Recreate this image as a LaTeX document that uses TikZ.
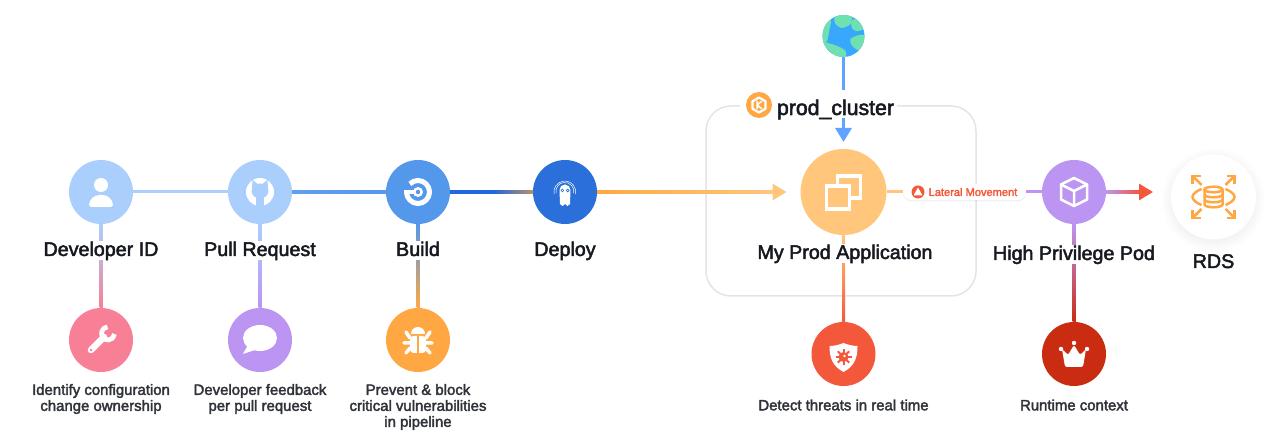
\documentclass[tikz,border=0pt]{standalone}
\usepackage{fontspec}
\setmainfont{Liberation Sans}[FakeBold=2.5]
\usetikzlibrary{arrows.meta,calc,shadows}

\definecolor{skyblue}{HTML}{AACFFC}
\definecolor{midblue}{HTML}{5398EA}
\definecolor{deepblue}{HTML}{2B6FDB}
\definecolor{wireblue}{HTML}{2065E2}
\definecolor{arrowblue}{HTML}{5FA2FF}
\definecolor{pink}{HTML}{F77F96}
\definecolor{lilac}{HTML}{BC94F2}
\definecolor{amber}{HTML}{FFA843}
\definecolor{sand}{HTML}{FFC67C}
\definecolor{coral}{HTML}{F4583A}
\definecolor{brick}{HTML}{C92C10}
\definecolor{boxgrey}{HTML}{E4E4E4}
\definecolor{inkdark}{HTML}{16191F}
\definecolor{inkgrey}{HTML}{30333A}
\definecolor{seablue}{HTML}{38A8FF}
\definecolor{landgreen}{HTML}{6FE0B0}

% connector with a colour fade along it
\newcommand{\hfade}[4]{%
  \draw[wire,#3!50!#4] (#1) -- (#2);
  \shade[left color=#3,right color=#4] ($(#1.east)+(0,.03)$) rectangle ($(#2.west)-(0,.03)$);}
\newcommand{\vfade}[4]{%
  \draw[wire,#3!50!#4] (#1) -- (#2);
  \shade[top color=#3,bottom color=#4] ($(#1.south)+(-.03,0)$) rectangle ($(#2.north)+(.03,0)$);}

\begin{document}
\begin{tikzpicture}[
  stepnode/.style={circle, fill=#1, minimum size=1.28cm, inner sep=0pt, outer sep=0pt},
  title/.style={anchor=base, fill=white, inner xsep=.06cm, inner ysep=0pt, text height=.30cm,
                text depth=.09cm, text=inkdark, font=\fontsize{11.2}{13}\selectfont},
  note/.style={align=center, inner sep=0pt, text=inkgrey, font=\fontsize{8.5}{9.1}\selectfont},
  wire/.style={line width=.06cm},
  tip/.style={-{Triangle[length=.28cm,width=.32cm]}},
  iconat/.style={shift={(#1)}, x=.02cm, y=.02cm},
  pen/.style={draw=white, line width=#1, line cap=round, line join=round}
]
  \useasboundingbox (0,0) rectangle (25.34,8.72);

  % cluster frame
  \node[draw=boxgrey, line width=.03cm, rounded corners=.5cm, minimum width=5.4cm,
        minimum height=3.8cm, inner sep=0pt] (cluster) at (16.82, 4.7) {};

  % main row
  \node[stepnode=skyblue] (dev)     at (2.02, 4.88) {};
  \node[stepnode=skyblue] (pullreq) at (5.2, 4.88)  {};
  \node[stepnode=midblue] (build)   at (8.36, 4.88) {};
  \node[stepnode=deepblue] (deploy) at (11.3, 4.88) {};
  \node[circle, fill=sand, minimum size=1.72cm, inner sep=0pt, outer sep=0pt] (app) at (16.87, 4.88) {};
  \node[stepnode=lilac] (pod) at (21.48, 4.88) {};
  \coordinate (rdstip) at (23.06, 4.88);

  % lower row
  \node[stepnode=pink]  (wrench) at (2.02, 1.92) {};
  \node[stepnode=lilac] (chat)   at (5.2, 1.92)  {};
  \node[stepnode=amber] (bug)    at (8.36, 1.92) {};
  \node[stepnode=coral] (shield) at (16.87, 1.64) {};
  \node[stepnode=brick] (crown)  at (21.48, 1.64) {};

  % internet on top, database on the right
  \node[circle, fill=seablue, minimum size=.84cm, inner sep=0pt, outer sep=0pt] (globe) at (16.87, 8) {};
  \foreach \r in {52,51,...,40}
    \fill[black, opacity=.004] (24.27, 4.72) circle ({\r*.02});
  \node[circle, fill=white, minimum size=1.7cm, inner sep=0pt] (rds) at (24.27, 4.78) {};

  % connectors
  \draw[wire, skyblue] (dev) -- (pullreq);
  \hfade{pullreq}{build}{midblue!85!skyblue}{midblue}
  \hfade{build}{deploy}{wireblue}{wireblue}
  \shade[left color=wireblue, right color=amber!45!gray] ($(deploy.west)+(-.8,.03)$) rectangle ($(deploy.west)-(0,.03)$);
  \draw[wire, tip, shorten >=.28cm, sand] (deploy) -- (app);
  \shade[left color=amber, right color=sand] ($(deploy.east)+(0,.03)$) rectangle ($(app.west)+(-.56,-.03)$);
  \draw[wire, tip, shorten >=.14cm, arrowblue] (globe) -- (app);
  \draw[wire, -{Triangle[length=.28cm,width=.32cm,color=coral]}, lilac] (pod) -- (rdstip);
  \shade[left color=lilac, right color=coral] ($(pod.east)+(0,.03)$) rectangle ($(rdstip)+(-.28,-.03)$);
  \vfade{dev}{wrench}{skyblue}{pink}
  \vfade{pullreq}{chat}{skyblue}{lilac}
  \vfade{build}{bug}{midblue}{amber}
  \vfade{app}{shield}{sand}{coral}
  \vfade{pod}{crown}{lilac}{brick}

  % risk badge on the link
  \node[fill=white, rounded corners=.16cm, minimum width=2.46cm, minimum height=.32cm, inner sep=0pt,
        drop shadow={opacity=.12, shadow xshift=0cm, shadow yshift=-.03cm},
        text=coral, font=\fontsize{6.3}{7}\selectfont] (lateral) at (19.29, 4.88)
        {\hspace*{.34cm}Lateral Movement};
  \draw[wire, sand] (app) -- (lateral);
  \draw[wire, lilac] (lateral) -- (pod);
  \node[circle, fill=coral, minimum size=.26cm, inner sep=0pt] (lateralicon) at (18.36, 4.88) {};
  \fill[white, rounded corners=.3pt] (18.36, 4.97) -- (18.45, 4.81) -- (18.27, 4.81) -- cycle;

  % texts
  \node[title] (devlabel)     at (2.02, 3.6)   {Developer ID};
  \node[title] (pullreqlabel) at (5.2, 3.6)    {Pull Request};
  \node[title] (buildlabel)   at (8.36, 3.6)   {Build};
  \node[title] (deploylabel)  at (11.3, 3.6)   {Deploy};
  \node[title] (applabel)     at (16.9, 3.54)  {My Prod Application};
  \node[title] (podlabel)     at (21.48, 3.52) {High Privilege Pod};
  \node[title] (rdslabel)     at (24.27, 3.36) {RDS};
  \node[title, inner xsep=.06cm, text height=.5cm, text depth=.06cm,
        font=\fontsize{12.1}{14}\selectfont] (clustertitle) at (16.71, 6.42) {prod\_cluster};
  \node[circle, fill=white, minimum size=.76cm, inner sep=0pt] (clusterhalo) at (15.18, 6.62) {};
  \node[circle, fill=amber, minimum size=.52cm, inner sep=0pt] (clustericon) at (15.18, 6.62) {};
  \node[note] (wrenchnote) at (2.02, .74)  {Identify configuration\\change ownership};
  \node[note] (chatnote)   at (5.2, .74)   {Developer feedback\\per pull request};
  \node[note] (bugnote)    at (8.36, .58)  {Prevent \& block\\critical vulnerabilities\\in pipeline};
  \node[note] (shieldnote) at (16.87, .62) {Detect threats in real time};
  \node[note] (crownnote)  at (21.48, .62) {Runtime context};

  % person
  \begin{scope}[iconat=dev]
    \fill[white] (0,7) circle (7);
    \fill[white, rounded corners=1pt] (-12,-15) -- (12,-15) .. controls (12,-7) and (6,-3) .. (0,-3) .. controls (-6,-3) and (-12,-7) .. (-12,-15) -- cycle;
  \end{scope}
  % octocat
  \begin{scope}[iconat=pullreq]
    \fill[white] (0,0) circle (14);
    \fill[skyblue] (0,1) ellipse (8.5 and 7.5);
    \fill[skyblue] (-8,3) -- (-7.5,12) -- (-1,7) -- cycle;
    \fill[skyblue] (8,3) -- (7.5,12) -- (1,7) -- cycle;
    \fill[skyblue] (-4,-14) rectangle (4,-4);
    \draw[white, line width=.03cm] (-10,-7) .. controls (-7,-8) and (-7,-10) .. (-4,-10);
  \end{scope}
  % build ring
  \begin{scope}[iconat=build]
    \draw[pen=.1cm, line cap=butt] (135:11.5) arc[start angle=135, end angle=-180, radius=11.5];
    \fill[white] (-14,-2.5) rectangle (-3,1.5);
    \fill[white] (0,0) circle (5);
    \fill[midblue] (0,0) circle (2.2);
  \end{scope}
  % ghost
  \begin{scope}[iconat=deploy]
    \draw[pen=.01cm] (-11,-2) arc[start angle=190, end angle=-10, radius=11];
    \draw[pen=.01cm] (-9,-1) arc[start angle=190, end angle=-10, radius=9];
    \fill[white] (-5.5,2) arc[start angle=180, end angle=0, radius=5.5] -- (5,-12) -- (2.5,-14) -- (0,-12) -- (-2.5,-14) -- (-5,-12) -- cycle;
    \fill[deepblue] (-2.7,1.5) circle (1.8) (2.7,1.5) circle (1.8);
    \fill[white] (-2.7,1.5) circle (.7) (2.7,1.5) circle (.7);
  \end{scope}
  % copies
  \begin{scope}[iconat=app]
    \draw[pen=.07cm, line cap=butt, line join=miter] (-17,-17) rectangle (6,6);
    \draw[pen=.07cm, line cap=butt, line join=miter] (-6,6) -- (-6,16) -- (17,16) -- (17,-6) -- (6,-6);
  \end{scope}
  % cube
  \begin{scope}[iconat=pod]
    \draw[pen=.05cm] (0,14) -- (13,7.5) -- (13,-7.5) -- (0,-14) -- (-13,-7.5) -- (-13,7.5) -- cycle;
    \draw[pen=.05cm] (-13,7.5) -- (0,1) -- (13,7.5) (0,1) -- (0,-14);
  \end{scope}
  % wrench
  \begin{scope}[iconat=wrench]
    \draw[pen=.13cm] (-10,-10) -- (3,3);
    \draw[pen=.095cm, line cap=butt] (6.5,13) arc[start angle=95, end angle=355, radius=6.5];
    \fill[pink] (-10,-10) circle (1.4);
  \end{scope}
  % speech bubble
  \begin{scope}[iconat=chat]
    \fill[white] (0,2) ellipse (17 and 13);
    \fill[white] (-12,-5) -- (-17,-14) -- (-5,-10) -- cycle;
  \end{scope}
  % bug
  \begin{scope}[iconat=bug]
    \fill[white] (-7,6) arc[start angle=180, end angle=0, radius=7] -- cycle;
    \fill[white, rounded corners=2pt] (-8,4) rectangle (8,-13);
    \fill[amber] (-1,4) rectangle (1,-13);
    \draw[pen=.07cm] (-8,2) -- (-12,8) (8,2) -- (12,8) (-8,-3) -- (-14,-3) (8,-3) -- (14,-3)
      (-8,-8) -- (-12,-13) (8,-8) -- (12,-13);
  \end{scope}
  % shield with a gear
  \begin{scope}[iconat=shield]
    \fill[white] (0,11) .. controls (5,9) and (10,8) .. (14,8) .. controls (14,-4) and (11,-12) .. (0,-18)
      .. controls (-11,-12) and (-14,-4) .. (-14,8) .. controls (-10,8) and (-5,9) .. (0,11) -- cycle;
    \fill[coral] (0,-3) circle (5);
    \foreach \a in {0,45,...,315}
      \draw[coral, line width=.04cm] (0,-3) -- ++(\a:8);
    \fill[white] (1,-2) circle (1.4);
  \end{scope}
  % crown
  \begin{scope}[iconat=crown]
    \fill[white, rounded corners=1.2pt] (-9,-13) -- (9,-13) -- (12,5) -- (6,-1) -- (0,9) -- (-6,-1) -- (-12,5) -- cycle;
    \fill[white] (-13,5) circle (2.2) (13,5) circle (2.2) (0,11) circle (2.2);
  \end{scope}
  % database with arrows
  \begin{scope}[iconat=rds, every path/.style={draw=amber, line width=.05cm}]
    \foreach \sx/\sy in {1/1,1/-1,-1/1,-1/-1} {
      \draw (\sx*12,\sy*12) -- (\sx*21,\sy*21);
      \draw (\sx*21,\sy*13) -- (\sx*21,\sy*21) -- (\sx*13,\sy*21);
    }
    \draw (-12,8) .. controls (-17,6) and (-21,3) .. (-21,0) .. controls (-21,-3) and (-17,-6) .. (-12,-8);
    \draw (12,8) .. controls (17,6) and (21,3) .. (21,0) .. controls (21,-3) and (17,-6) .. (12,-8);
    \draw (0,7.5) ellipse (9 and 2.8);
    \draw (-9,7.5) -- (-9,-7.5) arc[start angle=180, end angle=360, x radius=9, y radius=2.8] -- (9,7.5);
    \draw (-9,2.5) arc[start angle=180, end angle=360, x radius=9, y radius=2.8];
    \draw (-9,-2.5) arc[start angle=180, end angle=360, x radius=9, y radius=2.8];
  \end{scope}
  % globe
  \begin{scope}[iconat=globe]
    \clip (0,0) circle (21);
    \fill[landgreen] plot[smooth cycle] coordinates {(-9,18) (-2,24) (8,22) (7,12) (-2,8) (-8,12)};
    \fill[landgreen] plot[smooth cycle] coordinates {(-25,18) (-13,16) (-14,7) (-17,-6) (-25,-6)};
    \fill[landgreen] plot[smooth cycle] coordinates {(7,-3) (16,1) (25,-1) (25,-15) (14,-14) (8,-9)};
    \fill[landgreen] plot[smooth cycle] coordinates {(-22,-7) (-9,-9) (2,-15) (0,-25) (-16,-25)};
    \fill[landgreen] plot[smooth cycle] coordinates {(8,15) (16,18) (24,10) (15,5) (9,7)};
  \end{scope}
  % cluster badge
  \begin{scope}[iconat=clustericon]
    \draw[pen=.045cm] (90:7.5) -- (30:7.5) -- (-30:7.5) -- (-90:7.5) -- (-150:7.5) -- (150:7.5) -- cycle;
    \draw[pen=.03cm] (-2,3.5) -- (-2,-3.5) (2.5,3.5) -- (-2,0) -- (2.5,-3.5);
  \end{scope}
\end{tikzpicture}
\end{document}
